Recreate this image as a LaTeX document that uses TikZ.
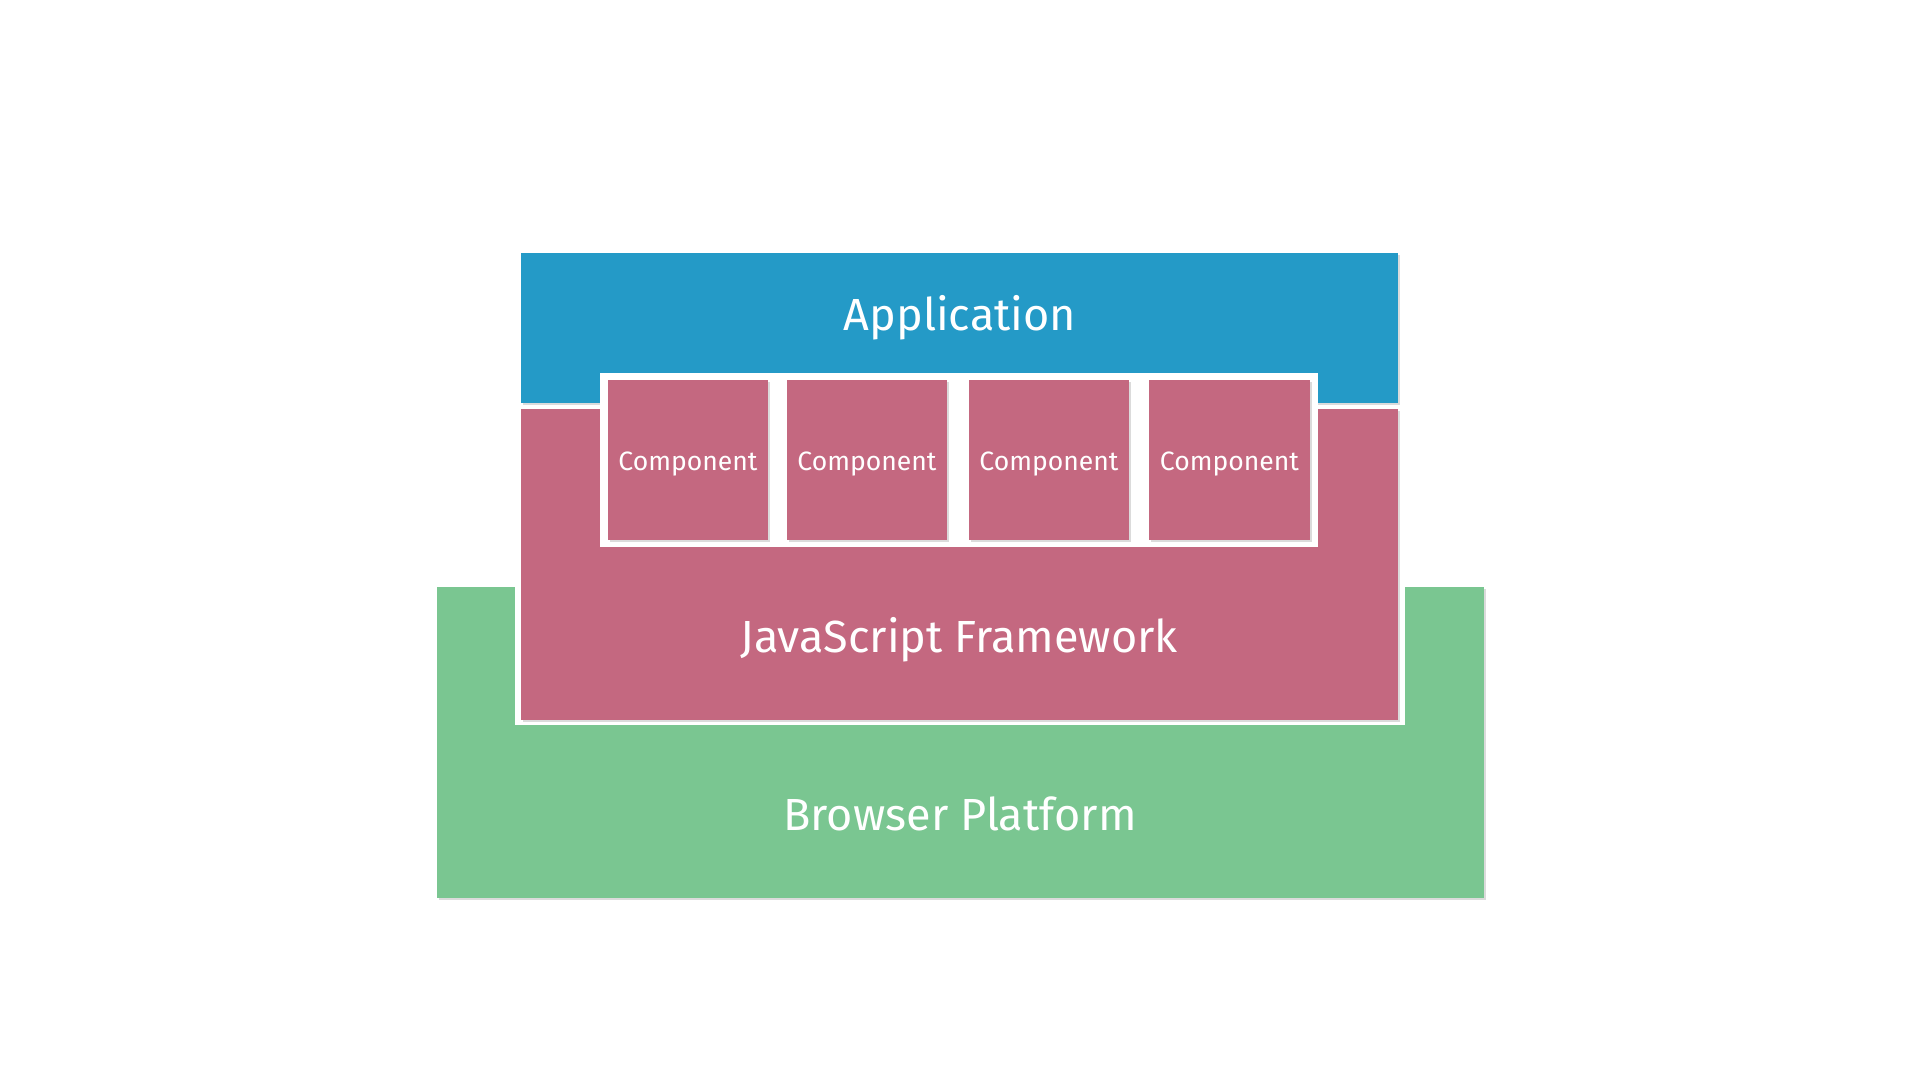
\documentclass[tikz,border=0pt]{standalone}
\usepackage{fontspec}
\setmainfont{Fira Sans}
\definecolor{appblue}{RGB}{36,154,199}
\definecolor{fwpink}{RGB}{196,104,128}
\definecolor{bpgreen}{RGB}{122,198,145}
\begin{document}
\begin{tikzpicture}[x=0.01cm,y=-0.01cm,
  shade/.style={fill=black,opacity=0.14},
  bigtext/.style={text=white,anchor=base,font=\fontsize{12.8pt}{14pt}\selectfont,inner sep=0pt},
  comptext/.style={text=white,anchor=base,font=\fontsize{7.55pt}{9pt}\selectfont,inner sep=0pt},
  comp/.style={fill=fwpink}]
\useasboundingbox (0,0) rectangle (1920,1080);
\fill[white] (0,0) rectangle (1920,1080);
% green platform
\fill[shade] (439,589) rectangle (1486,900);
\fill[bpgreen] (437,587) rectangle (1484,898);
\fill[white] (515,530) rectangle (1405,725);
% pink framework
\fill[shade] (523,411) rectangle (1400,722);
\fill[fwpink] (521,409) rectangle (1398,720);
% blue application
\fill[shade] (523,255) rectangle (1400,405);
\fill[appblue] (521,253) rectangle (1398,403);
% white frame for components
\fill[white] (600,373) rectangle (1318,547);
% components
\foreach \xa/\xb in {608/768, 787/947, 969/1129, 1149/1310}{
  \fill[shade] (\xa+2,382) rectangle (\xb+2,542);
  \fill[comp] (\xa,380) rectangle (\xb,540);
}
\node[bigtext] (app) at (960,331) {Application};
\node[bigtext] (fw) at (959,653) {JavaScript Framework};
\node[bigtext] (bp) at (960,831) {Browser Platform};
\node[comptext] (c1) at (688,471) {Component};
\node[comptext] (c2) at (867,471) {Component};
\node[comptext] (c3) at (1049,471) {Component};
\node[comptext] (c4) at (1229.5,471) {Component};
\end{tikzpicture}
\end{document}
